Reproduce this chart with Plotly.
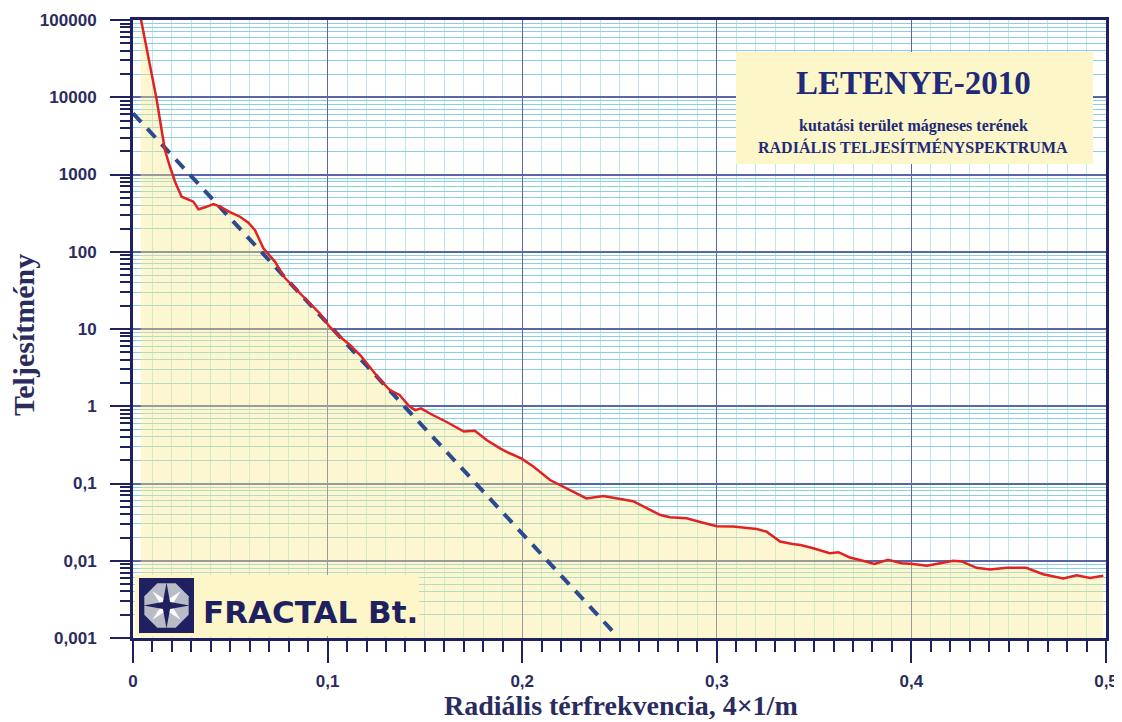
import plotly.graph_objects as go
import math

# ---------------- data ----------------
freq = [0.0040, 0.0079, 0.0105, 0.0122, 0.0147, 0.0164, 0.0190, 0.0216, 0.0250, 0.0284,
        0.0310, 0.0336, 0.0370, 0.0413, 0.0447, 0.0498, 0.0550, 0.0593, 0.0627, 0.0670,
        0.0730, 0.0780, 0.0858, 0.0910, 0.0960, 0.1010, 0.1064, 0.1115, 0.1167, 0.1218,
        0.1270, 0.1320, 0.1370, 0.1420, 0.1450, 0.1480, 0.1540, 0.1610, 0.1700, 0.1757,
        0.1817, 0.1886, 0.1930, 0.1997, 0.2057, 0.2143, 0.2210, 0.2280, 0.2330, 0.2417,
        0.2520, 0.2570, 0.2640, 0.2710, 0.2760, 0.2845, 0.2910, 0.3000, 0.3085, 0.3205,
        0.3256, 0.3325, 0.3390, 0.3430, 0.3496, 0.3580, 0.3625, 0.3680, 0.3770, 0.3810,
        0.3880, 0.3950, 0.4010, 0.4080, 0.4147, 0.4215, 0.4258, 0.4335, 0.4404, 0.4490,
        0.4590, 0.4677, 0.4780, 0.4850, 0.4918, 0.4986]
power = [105000, 33500, 15200, 9200, 3760, 2075, 1260, 807, 516, 478,
         445, 355, 376, 415, 383, 325, 284, 238, 190, 111,
         74, 46, 29, 21.5, 15.9, 10.7, 7.95, 6.2, 4.6, 3.19,
         2.19, 1.62, 1.40, 1.00, 0.89, 0.94, 0.77, 0.63, 0.47, 0.48,
         0.366, 0.285, 0.25, 0.21, 0.166, 0.111, 0.091, 0.073, 0.064, 0.069,
         0.062, 0.059, 0.048, 0.039, 0.0365, 0.0355, 0.032, 0.028, 0.0277, 0.0257,
         0.0238, 0.0177, 0.0165, 0.0160, 0.0145, 0.0125, 0.0129, 0.0111, 0.0097, 0.0091,
         0.0103, 0.0093, 0.0091, 0.0086, 0.0093, 0.0100, 0.0098, 0.0081, 0.0077, 0.0081,
         0.0081, 0.0067, 0.0059, 0.0065, 0.0060, 0.0064]

fit_x = [0.0, 0.2468]
fit_y = [6200, 0.0012]

y_ticks = [0.001, 0.01, 0.1, 1, 10, 100, 1000, 10000, 100000]
y_labels = ["0,001", "0,01", "0,1", "1", "10", "100", "1000", "10000", "100000"]
x_ticks = [0, 0.1, 0.2, 0.3, 0.4, 0.5]
x_labels = ["0", "0,1", "0,2", "0,3", "0,4", "0,5"]
baseline = 0.001

title_main = "LETENYE-2010"
title_sub1 = "kutatási terület mágneses terének"
title_sub2 = "RADIÁLIS TELJESÍTMÉNYSPEKTRUMA"
x_title = "Radiális térfrekvencia, 4×1/m"
y_title = "Teljesítmény"
logo_text = "FRACTAL Bt."

# ---------------- layout helpers ----------------
# screen-pixel targets; the page body adds an 8px offset before the figure
OFF = 8
W, H = 1122, 722
L, R, T, B = 133, 1106, 20, 638
NAVY = "#1E2060"
TXT = "#2A2C5E"


def px(xp):
    return (xp - L) / (R - L)


def py(yp):
    return (B - yp) / (B - T)


minor_y = [m * 10 ** e for e in range(-3, 5) for m in range(2, 10)]

fig = go.Figure()

fig.add_trace(go.Scatter(x=freq, y=[baseline] * len(freq), mode="lines",
                         line=dict(width=0), hoverinfo="skip", showlegend=False))
fig.add_trace(go.Scatter(x=freq, y=power, mode="lines", fill="tonexty",
                         fillcolor="rgba(248,236,140,0.40)", line=dict(width=0),
                         hoverinfo="skip", showlegend=False))
fig.add_trace(go.Scatter(x=fit_x, y=fit_y, mode="lines",
                         line=dict(color="#2C4A8E", width=4, dash="12px,9px"),
                         showlegend=False))
fig.add_trace(go.Scatter(x=freq, y=power, mode="lines",
                         line=dict(color="#E02222", width=2.5), showlegend=False))

shapes = []
# title box
shapes.append(dict(type="rect", xref="paper", yref="paper",
                   x0=px(736), x1=px(1093), y0=py(164), y1=py(52),
                   fillcolor="#FDF6C9", line=dict(width=0), layer="above"))
# logo box
shapes.append(dict(type="rect", xref="paper", yref="paper",
                   x0=px(135), x1=px(419), y0=py(636), y1=py(575),
                   fillcolor="#FDF6C9", line=dict(width=0), layer="above"))
# logo square
shapes.append(dict(type="rect", xref="paper", yref="paper",
                   x0=px(139), x1=px(194), y0=py(633), y1=py(578),
                   fillcolor=NAVY, line=dict(width=0), layer="above"))
cx, cy = 166.5, 605.5


def poly(points):
    s = ""
    for i, (a, b) in enumerate(points):
        s += ("M" if i == 0 else "L") + f"{px(a):.5f},{py(b):.5f}"
    return s + "Z"


octo = [(cx + 24 * math.cos(math.radians(22.5 + 45 * k)),
         cy + 24 * math.sin(math.radians(22.5 + 45 * k))) for k in range(8)]
shapes.append(dict(type="path", xref="paper", yref="paper", path=poly(octo),
                   fillcolor="#B9BCC6", line=dict(width=0), layer="above"))
diag = []
for k in range(8):
    ang = math.radians(45 + 45 * k)
    r = 20 if k % 2 == 0 else 5
    diag.append((cx + r * math.cos(ang), cy + r * math.sin(ang)))
shapes.append(dict(type="path", xref="paper", yref="paper", path=poly(diag),
                   fillcolor="#FFFFFF", line=dict(width=0), layer="above"))
star = []
for k in range(8):
    ang = math.radians(-90 + 45 * k)
    r = 23 if k % 2 == 0 else 5
    star.append((cx + r * math.cos(ang), cy + r * math.sin(ang)))
shapes.append(dict(type="path", xref="paper", yref="paper", path=poly(star),
                   fillcolor=NAVY, line=dict(width=0), layer="above"))

serif = "Liberation Serif"


def ann(text, xp, yp, size, family, color, angle=0):
    return dict(text=text, x=px(xp), y=py(yp), xref="paper", yref="paper",
                xanchor="center", yanchor="middle", textangle=angle, showarrow=False,
                font=dict(family=family, size=size, color=color, weight="bold"))


annotations = [
    ann(title_main, 913, 83, 33, serif, "#1F2A78"),
    ann(title_sub1, 913, 126, 16, serif, "#1F2A78"),
    ann(title_sub2, 913, 147, 16, serif, "#1F2A78"),
    ann(logo_text, 310, 612, 31, "DejaVu Sans", NAVY),
    ann(x_title, 621, 705, 28, serif, TXT),
    ann(y_title, 23, 335, 30, serif, TXT, -90),
]

tickfont = dict(family="Liberation Sans", size=17, color=TXT, weight="bold")

fig.update_layout(
    width=W, height=H,
    margin=dict(l=L - OFF, r=W - (R - OFF), t=T - OFF, b=H - (B - OFF), autoexpand=False),
    paper_bgcolor="white", plot_bgcolor="white",
    shapes=shapes, annotations=annotations,
    xaxis=dict(range=[0, 0.5], tickmode="array", tickvals=x_ticks, ticktext=x_labels,
               automargin=False,
               ticks="outside", ticklen=22, tickwidth=2, tickcolor=NAVY,
               showline=True, linecolor=NAVY, linewidth=3, mirror=True,
               showgrid=True, gridcolor="#5A66A8", gridwidth=1, zeroline=False,
               tickfont=tickfont, ticklabelstandoff=4,
               minor=dict(dtick=0.01, tick0=0, ticks="outside", ticklen=11, tickwidth=2,
                          tickcolor=NAVY, showgrid=True, gridcolor="#BFE4EC", gridwidth=1)),
    yaxis=dict(type="log", range=[-3, 5], tickmode="array", tickvals=y_ticks, ticktext=y_labels,
               automargin=False,
               ticks="outside", ticklen=20, tickwidth=2, tickcolor=NAVY,
               showline=True, linecolor=NAVY, linewidth=3, mirror=True,
               showgrid=True, gridcolor="#5A66A8", gridwidth=1.5, zeroline=False,
               tickfont=tickfont, ticklabelstandoff=10,
               minor=dict(tickmode="array", tickvals=minor_y, ticks="outside", ticklen=10,
                          tickwidth=1.5, tickcolor=NAVY, showgrid=True,
                          gridcolor="#8CD0DF", gridwidth=1)),
)

fig.write_html("out.html")
